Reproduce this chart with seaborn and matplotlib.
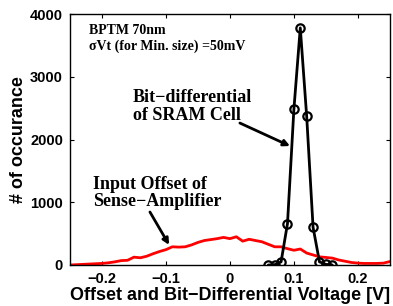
import numpy as np
import pandas as pd
import matplotlib
matplotlib.use('Agg')
import matplotlib.pyplot as plt
import seaborn as sns

# -----------------------------
# DATA
# -----------------------------
sa_offset_v = [-0.25, -0.24, -0.23, -0.22, -0.21, -0.20, -0.19, -0.18, -0.17, -0.16,
               -0.15, -0.14, -0.13, -0.12, -0.11, -0.10, -0.09, -0.08, -0.07, -0.06,
               -0.05, -0.04, -0.03, -0.02, -0.01, 0.00, 0.01, 0.02, 0.03, 0.04,
               0.05, 0.06, 0.07, 0.08, 0.09, 0.10, 0.11, 0.12, 0.13, 0.14,
               0.15, 0.16, 0.17, 0.18, 0.19, 0.20, 0.21, 0.22, 0.23, 0.24, 0.25]
sa_count = [0, 5, 10, 15, 20, 25, 35, 50, 70, 75,
            125, 115, 140, 180, 215, 245, 290, 285, 290, 320,
            360, 390, 405, 420, 440, 420, 450, 380, 410, 390,
            370, 330, 290, 290, 260, 235, 255, 190, 160, 130,
            120, 110, 80, 60, 40, 30, 25, 25, 25, 30, 55]

sram_diff_v = [0.06, 0.07, 0.08, 0.09, 0.10, 0.11, 0.12, 0.13, 0.14, 0.15, 0.16]
sram_count = [0, 5, 50, 660, 2480, 3780, 2370, 600, 50, 10, 0]

x_ticks = [-0.2, -0.1, 0, 0.1, 0.2]
x_tick_labels = ['\u22120.2', '\u22120.1', '0', '0.1', '0.2']
y_ticks = [0, 1000, 2000, 3000, 4000]

sa_df = pd.DataFrame({'v': sa_offset_v, 'n': sa_count})
sram_df = pd.DataFrame({'v': sram_diff_v, 'n': sram_count})

# -----------------------------
# PLOT
# -----------------------------
sns.set_style('ticks')
plt.rcParams['font.family'] = ['Liberation Sans', 'DejaVu Sans']
plt.rcParams['font.weight'] = 'bold'
for key in ['text.color', 'axes.labelcolor', 'xtick.color', 'ytick.color', 'axes.edgecolor']:
    plt.rcParams[key] = 'black'

fig = plt.figure(figsize=(3.93, 3.06), dpi=100)
ax = fig.add_axes([0.178, 0.134, 0.814, 0.820])

sns.lineplot(data=sa_df, x='v', y='n', color='red', lw=2.0, ax=ax)
sns.lineplot(data=sram_df, x='v', y='n', color='black', lw=2.0, marker='o',
             markersize=6, markerfacecolor='none', markeredgecolor='black',
             markeredgewidth=1.6, ax=ax)

ax.set_xlim(-0.25, 0.25)
ax.set_ylim(0, 4000)
ax.set_xticks(x_ticks)
ax.set_xticklabels(x_tick_labels)
ax.set_yticks(y_ticks)
ax.tick_params(direction='in', length=3, width=0.8, labelsize=10.5, pad=5,
               top=True, right=True)
for lab in ax.get_xticklabels() + ax.get_yticklabels():
    lab.set_fontweight('bold')
for s in ax.spines.values():
    s.set_linewidth(1.0)

ax.set_xlabel('Offset and Bit\u2212Differential Voltage [V]', fontsize=13,
              fontweight='bold', labelpad=1)
ax.set_ylabel('# of occurance', fontsize=13, fontweight='bold', labelpad=2)

serif = ['Liberation Serif', 'DejaVu Serif']
ax.text(-0.22, 3740, 'BPTM 70nm', family=serif, fontsize=10, fontweight='bold',
        va='center', ha='left')
ax.text(-0.22, 3480, '\u03c3Vt (for Min. size) =50mV', family=serif, fontsize=10,
        fontweight='bold', va='center', ha='left')

ax.text(-0.152, 2526, 'Bit\u2212differential\nof SRAM Cell', family=serif,
        fontsize=13, fontweight='bold', va='center', ha='left', linespacing=1.05)
ax.annotate('', xy=(0.094, 1896), xytext=(0.0156, 2263),
            arrowprops=dict(arrowstyle='-|>', color='black', lw=2,
                            mutation_scale=9, shrinkA=0, shrinkB=0))

ax.text(-0.214, 1147, 'Input Offset of\nSense\u2212Amplifier', family=serif,
        fontsize=13, fontweight='bold', va='center', ha='left', linespacing=1.05)
ax.annotate('', xy=(-0.095, 320), xytext=(-0.125, 845),
            arrowprops=dict(arrowstyle='-|>', color='black', lw=2,
                            mutation_scale=9, shrinkA=0, shrinkB=0))

fig.savefig('out.png', dpi=100)
